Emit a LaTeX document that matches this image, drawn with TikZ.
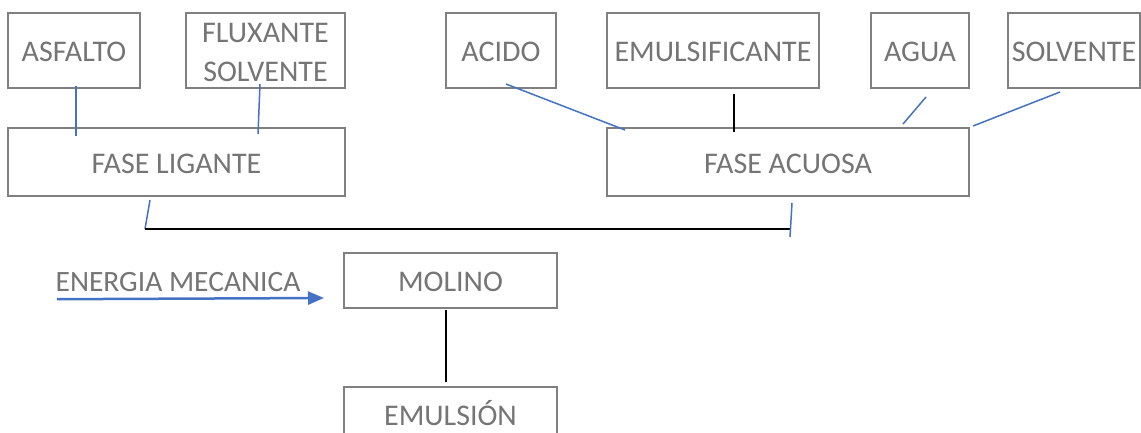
\documentclass[tikz,border=0pt]{standalone}
\usepackage{fontspec}
\setmainfont{Carlito}
\usetikzlibrary{arrows.meta,calc}
\definecolor{boxgray}{HTML}{808080}
\definecolor{txtgray}{HTML}{757575}
\definecolor{lnblue}{HTML}{4472C4}
\begin{document}
\begin{tikzpicture}[x=1pt,y=-1pt,
  boxbase/.style={draw=boxgray, line width=2pt, inner sep=0pt, text=txtgray,
    font=\fontsize{30}{39}\selectfont},
  box/.style={boxbase, text height=22pt, text depth=0pt},
  lbl/.style={inner sep=0pt, text=txtgray, font=\fontsize{29.5}{39}\selectfont,
    text height=22pt, text depth=0pt},
  blueline/.style={draw=lnblue, line width=1.5pt},
  blackline/.style={draw=black, line width=1.5pt},
  bluearrow/.style={draw=lnblue, line width=2.5pt,
    -{Triangle[length=16pt,width=13pt]}}]
\useasboundingbox (0,0) rectangle (1141,432);
\fill[white] (0,0) rectangle (1141,432);

% top row
\node[box, minimum width=132pt, minimum height=75pt] (asfalto) at (74,50.5) {ASFALTO};
\node[boxbase, minimum width=159pt, minimum height=75pt, align=center] (fluxante) at (265.5,50.5) {\rule{0pt}{24pt}FLUXANTE\\SOLVENTE};
\node[box, minimum width=110pt, minimum height=75pt] (acido) at (501,50.5) {ACIDO};
\node[box, minimum width=212pt, minimum height=75pt] (emulsif) at (713,50.5) {EMULSIFICANTE};
\node[box, minimum width=98pt, minimum height=75pt] (agua) at (920,50.5) {AGUA};
\node[box, minimum width=132pt, minimum height=75pt] (solvente) at (1074,50.5) {SOLVENTE};

% phases
\node[box, minimum width=337pt, minimum height=68pt] (ligante) at (176.5,162) {FASE LIGANTE};
\node[box, minimum width=362pt, minimum height=68pt] (acuosa) at (788,162) {FASE ACUOSA};

% lower part
\node[box, minimum width=213pt, minimum height=55pt] (molino) at (450.5,280.5) {MOLINO};
\node[box, minimum width=213pt, minimum height=55pt] (emulsion) at (450.5,414.5) {EMULSIÓN};
\node[lbl] (energia) at (178,280.5) {ENERGIA MECANICA};

\coordinate (jl) at (145,229);
\coordinate (jr) at (791,229);

% connectors to FASE LIGANTE
\draw[blueline] ($(asfalto.south)+(2,-3)$) -- ($(asfalto.south |- ligante.north)+(2,9)$);
\draw[blueline] ($(fluxante.south)+(-5.5,-5)$) -- ($(fluxante.south |- ligante.north)+(-7.5,7)$);

% connectors to FASE ACUOSA
\draw[blueline] ($(acido.south)+(5,-5)$) -- ($(acuosa.north west)+(19,3)$);
\draw[blackline] ($(emulsif.south)+(21,5)$) -- ($(emulsif.south |- acuosa.north)+(21,5)$);
\draw[blueline] ($(agua.south)+(6,8)$) -- ($(acuosa.north east)+(-67,-3)$);
\draw[blueline] ($(solvente.south)+(-14,3)$) -- ($(acuosa.north east)+(3,-1)$);

% junction
\draw[blueline] ($(ligante.south)+(-26.5,3)$) -- (jl);
\draw[blackline] (jl) -- (jr);
\draw[blueline] ($(acuosa.south)+(4,6)$) -- ($(jr)+(-1,8)$);

% energy arrow and mill
\draw[bluearrow] ($(energia.south west)+(1.5,7.5)$) -- ($(molino.west)+(-19,17.5)$);
\draw[blackline] ($(molino.south)+(-4.5,1)$) -- ($(emulsion.north)+(-4.5,-4)$);
\end{tikzpicture}
\end{document}
